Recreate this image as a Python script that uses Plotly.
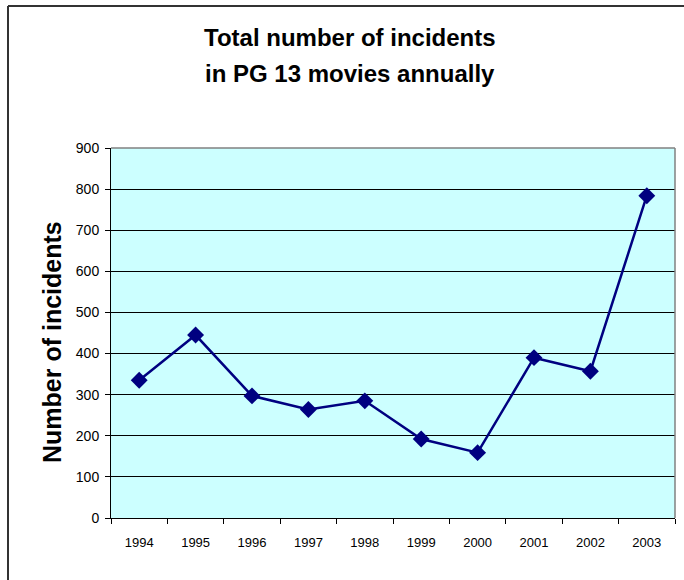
import plotly.graph_objects as go

years = ["1994", "1995", "1996", "1997", "1998", "1999", "2000", "2001", "2002", "2003"]
incidents = [335, 445, 297, 264, 285, 192, 159, 390, 357, 784]
y_ticks = [0, 100, 200, 300, 400, 500, 600, 700, 800, 900]

title_line1 = "Total number of incidents"
title_line2 = "in PG 13 movies annually"
y_title = "Number of incidents"

FONT = "Liberation Sans, Arial, sans-serif"
W, H = 684, 580
L, R, T, B = 111, 9, 148, 62
PW = W - L - R
PH = H - T - B


def px_x(x):
    return (x - L) / PW


def px_y(y):
    return (H - B - y) / PH


fig = go.Figure()
fig.add_trace(go.Scatter(
    x=years, y=incidents, mode="lines+markers",
    line=dict(color="#000080", width=2.5),
    marker=dict(symbol="diamond", size=13, color="#000080"),
    showlegend=False, hoverinfo="x+y",
))

fig.update_layout(
    width=W, height=H, autosize=False,
    margin=dict(l=L, r=R, t=T, b=B, pad=0),
    paper_bgcolor="white", plot_bgcolor="#CCFFFF",
    font=dict(family=FONT, size=13, color="black"),
    xaxis=dict(
        type="category", range=[-0.5, len(years) - 0.5], autorange=False,
        showgrid=False, zeroline=False,
        showline=True, linecolor="black", linewidth=1,
        ticks="outside", ticklen=5, tickcolor="black", tickson="boundaries",
        ticklabelstandoff=12,
        tickfont=dict(size=13, family=FONT, color="black"),
        fixedrange=True,
    ),
    yaxis=dict(
        range=[0, 900], tickvals=y_ticks, showgrid=True, gridcolor="black", gridwidth=1,
        zeroline=False, showline=True, linecolor="black", linewidth=1,
        ticks="outside", ticklen=5, tickcolor="black",
        ticklabelstandoff=3,
        tickfont=dict(size=14, family=FONT, color="black"),
        fixedrange=True,
    ),
    annotations=[
        dict(text="<b>" + title_line1 + "</b>", xref="paper", yref="paper",
             x=px_x(350), y=px_y(38), xanchor="center", yanchor="middle",
             showarrow=False, font=dict(family=FONT, size=24, color="black")),
        dict(text="<b>" + title_line2 + "</b>", xref="paper", yref="paper",
             x=px_x(350), y=px_y(73), xanchor="center", yanchor="middle",
             showarrow=False, font=dict(family=FONT, size=24, color="black")),
        dict(text="<b>" + y_title + "</b>", xref="paper", yref="paper",
             x=px_x(52), y=px_y(342), xanchor="center", yanchor="middle",
             textangle=-90, showarrow=False,
             font=dict(family=FONT, size=25, color="black")),
    ],
    shapes=[
        # plot area border top and right (grey)
        dict(type="line", xref="paper", yref="paper", x0=0, x1=1, y0=1, y1=1,
             line=dict(color="#808080", width=1.5), layer="above"),
        dict(type="line", xref="paper", yref="paper", x0=1, x1=1, y0=0, y1=1,
             line=dict(color="#808080", width=1.5), layer="above"),
        # outer chart frame (top and left)
        dict(type="line", xref="paper", yref="paper", x0=px_x(8), x1=px_x(700),
             y0=px_y(6), y1=px_y(6), line=dict(color="#333333", width=2)),
        dict(type="line", xref="paper", yref="paper", x0=px_x(8), x1=px_x(8),
             y0=px_y(6), y1=px_y(600), line=dict(color="#333333", width=2)),
    ],
)

fig.write_html("out.html")
